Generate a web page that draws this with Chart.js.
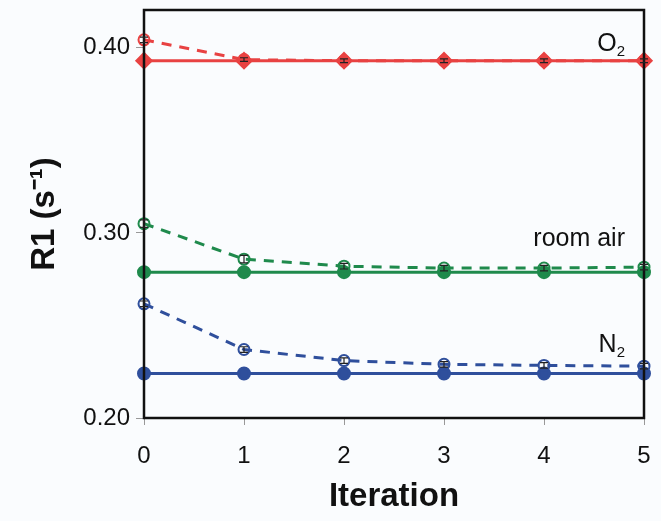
<!DOCTYPE html>
<html>
<head>
<meta charset="utf-8">
<script src="https://cdn.jsdelivr.net/npm/chart.js@4/dist/chart.umd.min.js"></script>
<style>
  html, body { margin: 0; padding: 0; background: #fafcfe; }
  #wrap { width: 661px; height: 521px; }
</style>
</head>
<body>
<div id="wrap"><canvas id="c"></canvas></div>
<script>
const iterations = [0, 1, 2, 3, 4, 5];

// R1 values (s^-1)
const o2Fixed = [0.393, 0.393, 0.393, 0.393, 0.393, 0.393];
const o2Fit = [0.4043, 0.3936, 0.393, 0.393, 0.393, 0.393];
const airFixed = [0.2788, 0.2788, 0.2788, 0.2788, 0.2788, 0.2788];
const airFit = [0.305, 0.2858, 0.282, 0.281, 0.281, 0.2815];
const n2Fixed = [0.224, 0.224, 0.224, 0.224, 0.224, 0.224];
const n2Fit = [0.2617, 0.237, 0.231, 0.229, 0.2284, 0.228];

// error bars on the dashed series
const o2Err = [0.0015, 0.001, 0.001, 0.001, 0.001, 0.001];
const airErr = [0.002, 0.002, 0.0015, 0.0015, 0.0015, 0.0015];
const n2Err = [0.0015, 0.0015, 0.0015, 0.0015, 0.0015, 0.0015];

const yTicks = [0.2, 0.3, 0.4];

// where the series names sit (baseline, in R1 units)
const seriesNames = [
  { main: "O", sub: "2", at: 0.3984 },
  { main: "room air", sub: "", at: 0.2928 },
  { main: "N", sub: "2", at: 0.2354 },
];

const RED = "#e84242";
const GREEN = "#1f8a4c";
const BLUE = "#2f4f9c";
const FONT = "'Liberation Sans', Arial, sans-serif";

const pts = (vals) => iterations.map((x, i) => ({ x: x, y: vals[i] }));

function solid(vals, color, shape, r) {
  return {
    data: pts(vals),
    borderColor: color,
    backgroundColor: color,
    borderWidth: 3,
    pointStyle: shape,
    pointRadius: r,
    pointBorderColor: color,
    pointBackgroundColor: color,
    clip: false,
  };
}

function dashed(vals, errs, color) {
  return {
    data: pts(vals),
    errs: errs,
    borderColor: color,
    borderWidth: 3,
    borderDash: [10, 8],
    pointStyle: "circle",
    pointRadius: 5.5,
    pointBorderWidth: 2,
    pointBorderColor: color,
    pointBackgroundColor: "rgba(255,255,255,0)",
    clip: false,
  };
}

const extras = {
  id: "extras",
  afterDatasetsDraw(chart) {
    const { ctx, chartArea, scales } = chart;
    ctx.save();
    // frame
    ctx.strokeStyle = "#111";
    ctx.lineWidth = 2.5;
    ctx.strokeRect(chartArea.left, chartArea.top, chartArea.right - chartArea.left, chartArea.bottom - chartArea.top);

    // error bars
    ctx.strokeStyle = "#222";
    ctx.lineWidth = 1.2;
    chart.data.datasets.forEach((ds) => {
      if (!ds.errs) return;
      ds.data.forEach((p, i) => {
        const x = scales.x.getPixelForValue(p.x);
        const y1 = scales.y.getPixelForValue(p.y + ds.errs[i]);
        const y2 = scales.y.getPixelForValue(p.y - ds.errs[i]);
        ctx.beginPath();
        ctx.moveTo(x, y1); ctx.lineTo(x, y2);
        ctx.moveTo(x - 4, y1); ctx.lineTo(x + 4, y1);
        ctx.moveTo(x - 4, y2); ctx.lineTo(x + 4, y2);
        ctx.stroke();
      });
    });

    // series names
    ctx.fillStyle = "#111";
    ctx.textAlign = "right";
    ctx.textBaseline = "alphabetic";
    seriesNames.forEach((s) => {
      const xr = chartArea.right - 19;
      const y = scales.y.getPixelForValue(s.at);
      ctx.font = "15px " + FONT;
      const sw = s.sub ? ctx.measureText(s.sub).width : 0;
      if (s.sub) ctx.fillText(s.sub, xr, y + 5);
      ctx.font = "25px " + FONT;
      ctx.fillText(s.main, xr - sw, y);
    });
    ctx.restore();
  },
};

new Chart(document.getElementById("c"), {
  type: "line",
  data: {
    datasets: [
      dashed(o2Fit, o2Err, RED),
      solid(o2Fixed, RED, "rectRot", 7),
      dashed(airFit, airErr, GREEN),
      solid(airFixed, GREEN, "circle", 5.5),
      dashed(n2Fit, n2Err, BLUE),
      solid(n2Fixed, BLUE, "circle", 5.5),
    ],
  },
  options: {
    responsive: true,
    maintainAspectRatio: false,
    animation: false,
    layout: { padding: { top: 4, right: 17, left: 0, bottom: 0 } },
    plugins: { legend: { display: false }, tooltip: { enabled: false } },
    scales: {
      x: {
        type: "linear",
        min: 0,
        max: 5,
        ticks: {
          stepSize: 1,
          color: "#111",
          padding: 17,
          font: { family: FONT, size: 24 },
        },
        grid: { drawOnChartArea: false, drawTicks: true, tickLength: 7, color: "#999" },
        border: { display: false },
        title: {
          display: true,
          text: "Iteration",
          color: "#111",
          padding: { top: 8 },
          font: { family: FONT, size: 33, weight: "bold" },
        },
        afterFit(scale) {
          scale.height = 103;
          scale.paddingLeft = 0;
          scale.paddingRight = 0;
        },
      },
      y: {
        min: 0.2,
        max: 0.4204,
        afterBuildTicks(scale) { scale.ticks = yTicks.map((v) => ({ value: v })); },
        ticks: {
          color: "#111",
          padding: 6,
          callback: (v) => v.toFixed(2),
          font: { family: FONT, size: 24 },
        },
        grid: { drawOnChartArea: false, drawTicks: true, tickLength: 8, color: "#999" },
        border: { display: false },
        title: {
          display: true,
          text: "R1 (s\u207B\u00B9)",
          color: "#111",
          padding: { top: 25, bottom: 0 },
          font: { family: FONT, size: 33, weight: "bold" },
        },
        afterFit(scale) {
          scale.width = 144;
          scale.paddingTop = 0;
          scale.paddingBottom = 0;
        },
      },
    },
  },
  plugins: [extras],
});
</script>
</body>
</html>
